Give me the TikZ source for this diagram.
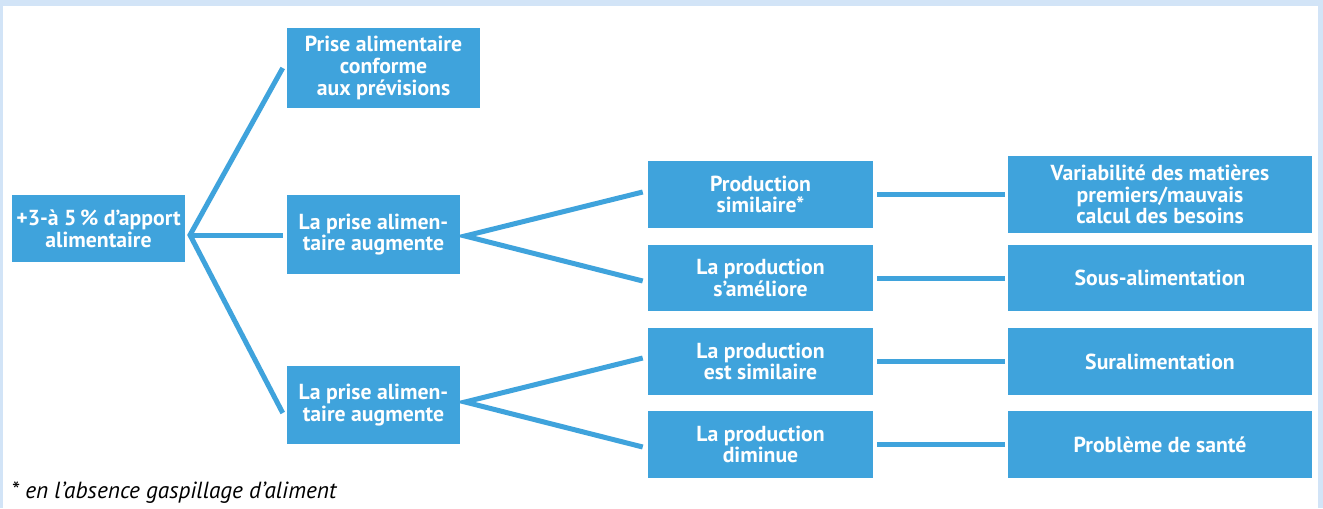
\documentclass[tikz,border=0pt]{standalone}
\usepackage{fontspec}
\setmainfont{PT Sans}
\definecolor{boxblue}{HTML}{3FA3DC}
\definecolor{frameblue}{HTML}{D2E4F7}
\begin{document}
\begin{tikzpicture}[x=0.75pt,y=-0.75pt,
  box/.style={fill=boxblue, draw=none, text=white, align=center, inner sep=0pt,
    font=\fontsize{16.3}{16.3}\selectfont\bfseries},
  link/.style={draw=boxblue, line width=3.75pt}]
\useasboundingbox (0,0) rectangle (1323,508);
\fill[frameblue] (0,0) rectangle (1323,508);
\fill[white] (3,6) rectangle (1318,508);

\node[box, minimum width=129.75pt, minimum height=50.25pt] (root) at (98.5,228.5) {+3-à 5\,\% d’apport\\alimentaire};
\node[box, minimum width=144.75pt, minimum height=60pt] (top) at (383.5,68) {Prise alimentaire\\conforme\\aux prévisions};
\node[box, minimum width=129.75pt, minimum height=59.25pt] (mid1) at (373.5,234.5) {La prise alimen-\\taire augmente};
\node[box, minimum width=129.75pt, minimum height=58.5pt] (mid2) at (373.5,405) {La prise alimen-\\taire augmente};

\node[box, minimum width=168.75pt, minimum height=50.25pt] (p1) at (760.5,194.5) {Production\\similaire*};
\node[box, minimum width=168.75pt, minimum height=49.5pt] (p2) at (760.5,278) {La production\\s’améliore};
\node[box, minimum width=168.75pt, minimum height=50.25pt] (p3) at (760.5,361.5) {La production\\est similaire};
\node[box, minimum width=168.75pt, minimum height=50.25pt] (p4) at (760.5,444.5) {La production\\diminue};

\node[box, minimum width=228pt, minimum height=57.75pt] (r1) at (1160,194.5) {Variabilité des matières\\premiers/mauvais\\calcul des besoins};
\node[box, minimum width=228pt, minimum height=49.5pt] (r2) at (1160,278) {Sous-alimentation};
\node[box, minimum width=228pt, minimum height=50.25pt] (r3) at (1160,361.5) {Suralimentation};
\node[box, minimum width=228pt, minimum height=50.25pt] (r4) at (1160,444.5) {Problème de santé};

\coordinate (j0) at (190,235);
\coordinate (j1) at (465,236);
\coordinate (j2) at (465,402);

\draw[link] ([shift={(-4,0)}]top.west) -- (j0) -- ([shift={(-4,8)}]mid2.west);
\draw[link] (j0) -- ([shift={(-4,0.5)}]mid1.west);

\draw[link] ([shift={(-5,-2.5)}]p1.west) -- (j1) -- ([shift={(-5,3)}]p2.west);
\draw[link] ([shift={(-5,-3.5)}]p3.west) -- (j2) -- ([shift={(-5,2.5)}]p4.west);

\draw[link] ([xshift=3pt]p1.east) -- ([xshift=-2.25pt]r1.west);
\draw[link] ([xshift=3pt]p2.east) -- ([xshift=-2.25pt]r2.west);
\draw[link] ([xshift=3pt]p3.east) -- ([xshift=-2.25pt]r3.west);
\draw[link] ([xshift=3pt]p4.east) -- ([xshift=-2.25pt]r4.west);

\node[anchor=west, inner sep=0pt, font=\fontsize{17.5}{18}\selectfont\itshape] (note) at (11,493) {* en l’absence gaspillage d’aliment};
\end{tikzpicture}
\end{document}
